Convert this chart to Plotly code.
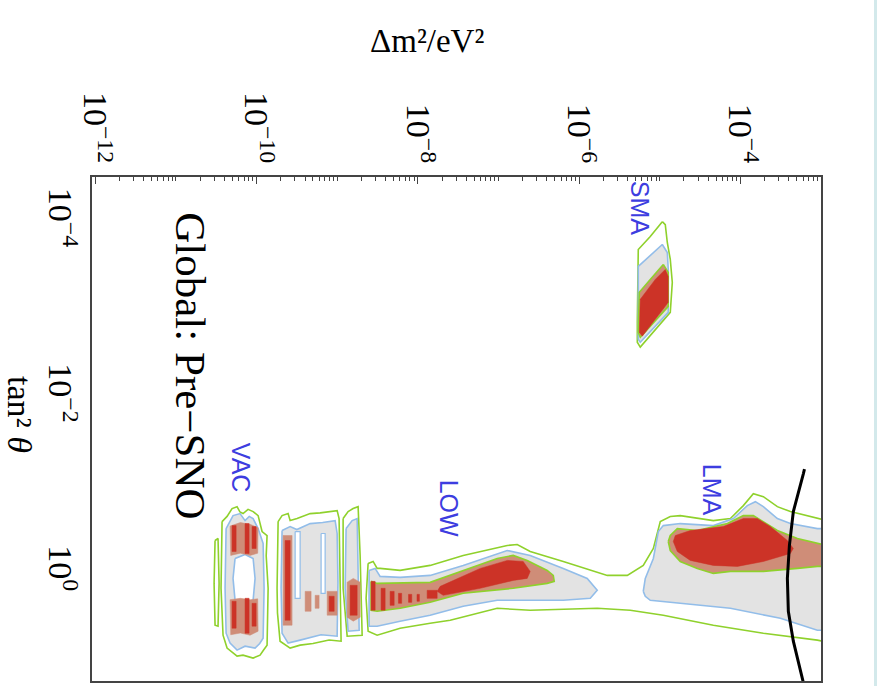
import plotly.graph_objects as go

# ---------------- axis / labels ----------------
dm2_label_exps = [-12, -10, -8, -6, -4]
dm2_tick_text = ["10<sup>−12</sup>", "10<sup>−10</sup>", "10<sup>−8</sup>",
                 "10<sup>−6</sup>", "10<sup>−4</sup>"]
dm2_unlabeled_exps = [-11, -9, -7, -5, -3]
tan2_tick_exps = [-4, -2, 0]
tan2_tick_text = ["10<sup>−4</sup>", "10<sup>−2</sup>", "10<sup>0</sup>"]
dm2_range_log = [-12.04, -3.0]
tan2_range_log = [1.227, -4.52]

region_names = ["SMA", "LMA", "LOW", "VAC"]
region_pos_paper = [(0.7517, 0.9368), (0.8505, 0.3794), (0.4897, 0.3419), (0.2044, 0.4229)]

# ---------------- contour polygons (log10 dm2, log10 tan2) ----------------
# LOW + LMA outermost contour (green line)
lowlma_outer_x = [-8.616, -8.554, -8.504, -8.467, -8.219, -7.847, -7.437, -6.891, -6.767, -6.606,
                  -6.196, -5.650, -5.402, -5.204, -5.079, -4.993, -4.869, -4.745, -4.335, -4.124,
                  -3.963, -3.839, -3.715, -3.541, -3.380, -2.98, -2.98, -3.045, -3.715, -4.335,
                  -4.956, -5.365, -5.775, -6.606, -7.015, -7.598, -7.847, -8.219, -8.504, -8.616, -8.641]
lowlma_outer_y = [-0.114, -0.136, -0.057, -0.057, -0.034, -0.091, -0.205, -0.318, -0.330, -0.250,
                  -0.136, 0.023, 0.023, -0.091, -0.284, -0.591, -0.648, -0.659, -0.602, -0.625,
                  -0.773, -0.909, -0.875, -0.761, -0.705, -0.614, 0.773, 0.761, 0.682, 0.591,
                  0.477, 0.420, 0.398, 0.420, 0.398, 0.534, 0.568, 0.625, 0.705, 0.659, 0.284]

# LOW gray region (blue line)
low_gray_x = [-8.604, -8.529, -8.467, -8.219, -7.847, -7.437, -6.891, -6.606, -6.196, -5.899,
              -5.775, -5.861, -6.196, -7.015, -7.437, -7.847, -8.219, -8.504, -8.604]
low_gray_y = [-0.034, -0.057, 0.034, 0.045, 0.023, -0.091, -0.261, -0.205, -0.057, 0.057,
              0.193, 0.284, 0.307, 0.307, 0.375, 0.477, 0.545, 0.602, 0.602]
# LOW salmon region (green line)
low_salmon_x = [-8.579, -8.504, -7.847, -7.437, -7.015, -6.817, -6.643, -6.519, -6.395, -6.320,
                -6.308, -6.395, -6.817, -7.437, -7.847, -8.219, -8.504, -8.579]
low_salmon_y = [0.091, 0.114, 0.102, -0.034, -0.170, -0.205, -0.148, -0.091, -0.034, 0.023,
                0.091, 0.114, 0.170, 0.227, 0.330, 0.398, 0.432, 0.420]
# LOW red core
low_red_x = [-7.760, -7.722, -7.226, -6.891, -6.693, -6.606, -6.643, -6.817, -7.226, -7.685]
low_red_y = [0.205, 0.148, -0.057, -0.148, -0.136, -0.023, 0.057, 0.080, 0.170, 0.250]
# LOW red streaks: (x0, x1, y0, y1)
low_red_streaks = [(-8.579, -8.529, 0.091, 0.420), (-8.455, -8.405, 0.170, 0.420),
                   (-8.343, -8.293, 0.205, 0.364), (-8.240, -8.200, 0.227, 0.341),
                   (-8.115, -8.075, 0.239, 0.330), (-8.010, -7.980, 0.239, 0.318),
                   (-7.884, -7.760, 0.193, 0.284)]

# LMA gray region (blue line)
lma_gray_x = [-5.204, -5.179, -5.079, -5.017, -4.956, -4.745, -4.335, -4.087, -3.914, -3.814,
              -3.715, -3.541, -3.380, -3.045, -2.98, -2.98, -3.045, -3.504, -4.124, -4.745,
              -5.117, -5.179]
lma_gray_y = [0.205, 0.057, -0.170, -0.477, -0.545, -0.568, -0.545, -0.625, -0.773, -0.818,
              -0.761, -0.625, -0.568, -0.511, -0.511, 0.648, 0.648, 0.511, 0.398, 0.341,
              0.307, 0.261]
# LMA salmon region (green line)
lma_salmon_x = [-4.894, -4.869, -4.782, -4.534, -4.160, -3.963, -3.839, -3.715, -3.541, -3.293,
                -3.045, -2.98, -2.98, -3.045, -3.293, -3.715, -4.124, -4.335, -4.534, -4.745, -4.869]
lma_salmon_y = [-0.364, -0.432, -0.511, -0.489, -0.568, -0.659, -0.659, -0.591, -0.489, -0.398,
                -0.341, -0.330, -0.080, -0.080, -0.057, -0.023, -0.023, 0.0, -0.057, -0.136, -0.261]
# LMA red core
lma_red_x = [-4.832, -4.807, -4.621, -4.210, -3.963, -3.789, -3.628, -3.417, -3.343, -3.380,
             -3.715, -4.037, -4.335, -4.621, -4.782]
lma_red_y = [-0.364, -0.432, -0.489, -0.534, -0.625, -0.625, -0.534, -0.375, -0.284, -0.227,
             -0.136, -0.080, -0.091, -0.148, -0.250]

# SMA island
sma_outer_x = [-4.968, -4.931, -4.906, -4.869, -4.844, -4.869, -5.241, -5.278, -5.278, -5.266, -5.117]
sma_outer_y = [-4.011, -3.977, -3.773, -3.580, -3.318, -2.977, -2.580, -2.636, -2.864, -3.693, -3.841]
sma_gray_x = [-4.968, -4.906, -4.894, -4.894, -5.241, -5.266, -5.266, -5.079]
sma_gray_y = [-3.750, -3.659, -3.466, -2.977, -2.636, -2.670, -3.500, -3.659]
sma_salmon_x = [-4.956, -4.894, -4.894, -5.241, -5.266, -5.253, -5.117]
sma_salmon_y = [-3.523, -3.432, -3.045, -2.693, -2.750, -3.205, -3.352]
sma_red_x = [-4.931, -4.894, -4.894, -5.216, -5.253, -5.241, -5.055]
sma_red_y = [-3.466, -3.386, -3.091, -2.705, -2.750, -3.125, -3.352]

# VAC islands
vac_thin_x = [-10.514, -10.477, -10.464, -10.477, -10.514, -10.526]
vac_thin_y = [-0.375, -0.398, 0.114, 0.602, 0.591, 0.114]
vac_outer_x = [-10.427, -10.365, -10.303, -10.241, -10.205, -10.167, -10.105, -10.042, -9.980, -9.955,
               -9.931, -9.869, -9.880, -9.856, -9.869, -9.910, -9.956, -10.042, -10.167, -10.241,
               -10.365, -10.415, -10.430, -10.440]
vac_outer_y = [-0.591, -0.650, -0.739, -0.761, -0.700, -0.682, -0.730, -0.705, -0.659, -0.560,
               -0.477, -0.432, -0.200, 0.170, 0.818, 0.870, 0.932, 0.966, 0.932, 0.943,
               0.852, 0.705, 0.450, 0.170]
vac_gray_x = [-10.377, -10.330, -10.291, -10.204, -10.142, -10.090, -10.042, -9.980, -9.918, -9.906,
              -9.918, -9.960, -10.018, -10.142, -10.241, -10.328, -10.377, -10.390]
vac_gray_y = [-0.511, -0.600, -0.659, -0.682, -0.602, -0.650, -0.625, -0.511, -0.341, 0.170,
              0.739, 0.800, 0.852, 0.830, 0.875, 0.795, 0.682, 0.170]
vac_hole_x = [-10.266, -10.142, -10.042, -10.018, -10.042, -10.167, -10.266, -10.291]
vac_hole_y = [-0.170, -0.216, -0.170, 0.057, 0.307, 0.341, 0.307, 0.057]
vac_salmon_x = [[-10.328, -10.200, -10.080, -9.980, -9.985, -10.080, -10.200, -10.320],
                [-10.328, -10.200, -10.080, -9.985, -9.980, -10.080, -10.200, -10.320]]
vac_salmon_y = [[-0.540, -0.580, -0.560, -0.520, -0.230, -0.205, -0.230, -0.205],
                [0.300, 0.284, 0.300, 0.290, 0.660, 0.705, 0.680, 0.700]]
vac_red_streaks = [(-10.303, -10.253, -0.545, -0.250), (-10.142, -10.092, -0.568, -0.227),
                   (-10.055, -10.005, -0.534, -0.284), (-10.303, -10.253, 0.318, 0.625),
                   (-10.142, -10.092, 0.284, 0.682), (-10.055, -10.005, 0.341, 0.602)]

blk2_outer_x = [-9.732, -9.683, -9.608, -9.583, -9.497, -9.420, -9.335, -9.210, -9.087, -9.000,
                -8.976, -8.960, -8.951, -9.100, -9.300, -9.459, -9.583, -9.708, -9.740, -9.745]
blk2_outer_y = [-0.591, -0.659, -0.682, -0.602, -0.625, -0.650, -0.682, -0.690, -0.705, -0.716,
                -0.625, 0.100, 0.773, 0.760, 0.800, 0.818, 0.852, 0.773, 0.450, 0.170]
blk2_gray_x = [-9.683, -9.583, -9.500, -9.335, -9.180, -9.025, -9.000, -8.990, -9.000, -9.200,
               -9.459, -9.608, -9.683, -9.695]
blk2_gray_y = [-0.489, -0.534, -0.500, -0.568, -0.580, -0.602, -0.455, 0.100, 0.716, 0.700,
               0.761, 0.795, 0.682, 0.170]
blk2_gaps = [(-9.521, -9.459, -0.477, 0.284), (-9.199, -9.149, -0.455, 0.227)]
blk2_salmon_boxes = [(-9.670, -9.559, -0.432, 0.591), (-9.397, -9.323, 0.205, 0.432),
                     (-9.273, -9.224, 0.250, 0.398), (-9.124, -9.000, 0.205, 0.477)]
blk2_red_streaks = [(-9.645, -9.583, -0.375, 0.534), (-9.099, -9.037, 0.261, 0.432)]

blk3_outer_x = [-8.926, -8.864, -8.802, -8.740, -8.715, -8.690, -8.876, -8.926]
blk3_outer_y = [-0.625, -0.705, -0.739, -0.761, -0.205, 0.705, 0.716, 0.170]
blk3_gray_x = [-8.889, -8.814, -8.752, -8.740, -8.727, -8.864, -8.901]
blk3_gray_y = [-0.511, -0.602, -0.625, -0.170, 0.648, 0.659, 0.170]
blk3_salmon_x = [-8.876, -8.800, -8.715, -8.715, -8.800, -8.876]
blk3_salmon_y = [0.100, 0.057, 0.100, 0.500, 0.545, 0.500]
blk3_red_streaks = [(-8.839, -8.752, 0.136, 0.477)]

# CHOOZ exclusion curve
chooz_x = [-3.205, -3.219, -3.343, -3.392, -3.417, -3.405, -3.343, -3.231, -3.215]
chooz_y = [-1.19, -1.136, -0.705, -0.318, 0.057, 0.432, 0.773, 1.216, 1.26]

# ---------------- styling ----------------
GREEN = "#8fd12c"
BLUE = "#92bde9"
GRAY = "#e3e3e3"
SALMON = "#cf8d78"
RED = "#cc3327"
SERIF = "Liberation Serif, Times New Roman, serif"

fig = go.Figure()


def poly(xs, ys, fill, line, width=1.6):
    xs = list(xs) + [xs[0]]
    ys = list(ys) + [ys[0]]
    fig.add_trace(go.Scatter(
        x=[10 ** v for v in xs], y=[10 ** v for v in ys], mode="lines",
        fill="toself", fillcolor=fill,
        line=dict(color=line if line else fill, width=width if line else 0.5),
        hoverinfo="skip", showlegend=False))


def box(b, fill, line=None, width=1.2):
    x0, x1, y0, y1 = b
    poly([x0, x1, x1, x0], [y0, y0, y1, y1], fill, line, width)


NONE = "rgba(0,0,0,0)"
# outermost contours
for xs, ys in [(lowlma_outer_x, lowlma_outer_y), (sma_outer_x, sma_outer_y),
               (vac_thin_x, vac_thin_y), (vac_outer_x, vac_outer_y),
               (blk2_outer_x, blk2_outer_y), (blk3_outer_x, blk3_outer_y)]:
    poly(xs, ys, NONE, GREEN)
# gray regions
for xs, ys in [(low_gray_x, low_gray_y), (lma_gray_x, lma_gray_y), (sma_gray_x, sma_gray_y),
               (vac_gray_x, vac_gray_y), (blk2_gray_x, blk2_gray_y), (blk3_gray_x, blk3_gray_y)]:
    poly(xs, ys, GRAY, BLUE)
poly(vac_hole_x, vac_hole_y, "white", BLUE)
for b in blk2_gaps:
    box(b, "white", BLUE)
# salmon regions
for xs, ys in [(low_salmon_x, low_salmon_y), (lma_salmon_x, lma_salmon_y), (sma_salmon_x, sma_salmon_y)]:
    poly(xs, ys, SALMON, GREEN)
for xs, ys in zip(vac_salmon_x, vac_salmon_y):
    poly(xs, ys, SALMON, None)
poly(blk3_salmon_x, blk3_salmon_y, SALMON, None)
for b in blk2_salmon_boxes:
    box(b, SALMON)
# red cores
for xs, ys in [(low_red_x, low_red_y), (lma_red_x, lma_red_y), (sma_red_x, sma_red_y)]:
    poly(xs, ys, RED, None)
for b in low_red_streaks + vac_red_streaks + blk2_red_streaks + blk3_red_streaks:
    box(b, RED)

fig.add_trace(go.Scatter(x=[10 ** v for v in chooz_x], y=[10 ** v for v in chooz_y], mode="lines",
                         line=dict(color="black", width=3), hoverinfo="skip", showlegend=False))

annotations = []
for name, (px, py) in zip(region_names, region_pos_paper):
    annotations.append(dict(text=name, x=px, y=py, xref="paper", yref="paper", showarrow=False,
                            xanchor="center", yanchor="middle", textangle=90,
                            font=dict(family="Liberation Sans, Arial, sans-serif",
                                      size=25, color="#3d3de0")))
annotations += [
    dict(text="Global: Pre−SNO", x=0.1358, y=0.6245, xref="paper", yref="paper", showarrow=False,
         xanchor="center", yanchor="middle", textangle=90,
         font=dict(family=SERIF, size=43, color="black")),
    dict(text="tan² <i>θ</i>", x=-0.0988, y=0.5277, xref="paper", yref="paper",
         xanchor="center", yanchor="middle", showarrow=False, textangle=90,
         font=dict(family=SERIF, size=34, color="black")),
    dict(text="Δm²/eV²", x=0.4595, y=1.2708, xref="paper", yref="paper", showarrow=False,
         xanchor="center", yanchor="middle",
         font=dict(family=SERIF, size=33, color="black")),
]

minor_vals = [k * 10.0 ** e for e in range(-13, -2) for k in range(2, 10)]
minor_vals += [10.0 ** e for e in dm2_unlabeled_exps]

fig.update_layout(
    width=877, height=686,
    margin=dict(l=92, r=56, t=177, b=3),
    paper_bgcolor="white", plot_bgcolor="white",
    annotations=annotations,
    shapes=[dict(type="rect", xref="paper", yref="paper", x0=1.0727, x1=1.2, y0=-0.1, y1=1.5,
                 fillcolor="#d3e9eb", line=dict(width=0), layer="below")],
    xaxis=dict(type="log", side="top", range=dm2_range_log,
               tickvals=[10.0 ** e for e in dm2_label_exps], ticktext=dm2_tick_text,
               tickangle=90, ticks="inside", ticklen=7, tickcolor="#444",
               tickfont=dict(family=SERIF, size=34, color="black"),
               minor=dict(tickvals=minor_vals, ticks="inside", ticklen=4, tickcolor="#444"),
               showline=True, mirror=True, linecolor="#444", linewidth=2,
               showgrid=False, zeroline=False),
    yaxis=dict(type="log", range=tan2_range_log,
               tickvals=[10.0 ** e for e in tan2_tick_exps], ticktext=tan2_tick_text,
               tickangle=90, ticks="",
               tickfont=dict(family=SERIF, size=34, color="black"),
               showline=True, mirror=True, linecolor="#444", linewidth=2,
               showgrid=False, zeroline=False),
)

fig.write_html("out.html")
